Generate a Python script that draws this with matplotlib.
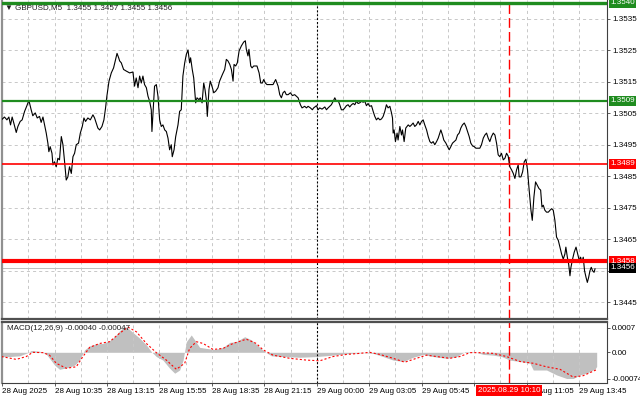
import numpy as np
import matplotlib.pyplot as plt
from matplotlib.ticker import FixedLocator, NullFormatter

plt.rcParams['font.family'] = ['Liberation Sans', 'DejaVu Sans']
plt.rcParams['lines.scale_dashes'] = False

# GBPUSD M5 close, x = bar number from the left edge of the chart
bars_a = [0.4, 1.8, 3.3, 4.5, 5.5, 6.5, 7.5, 9.0, 10.0, 11.4, 12.6, 14.1, 15.5, 16.7, 18.1, 19.1,
          20.6, 21.8, 23.2, 24.2, 25.3, 26.3, 27.3, 28.3, 28.9, 29.7, 30.8, 31.4, 32.4, 33.4, 34.4, 35.4,
          36.5, 37.5, 38.5, 39.5, 40.5, 41.5, 42.6, 43.6, 44.6, 45.6, 47.0, 48.1, 49.3, 50.3, 51.3, 52.7,
          54.2, 55.8, 56.8, 57.8, 58.8, 59.9, 61.3, 62.5, 63.5, 64.3, 65.6, 67.0, 68.4, 69.6, 70.5, 71.5]
close_a = [1.35031, 1.35038, 1.35029, 1.35038, 1.35013, 1.35038, 1.35019, 1.34989, 1.35008, 1.35024,
           1.35029, 1.35056, 1.35074, 1.35091, 1.35061, 1.35042, 1.35051, 1.35035, 1.35040, 1.35021,
           1.35038, 1.35013, 1.34987, 1.34955, 1.34928, 1.34944, 1.34923, 1.34886, 1.34896, 1.34880,
           1.34907, 1.34902, 1.34976, 1.34950, 1.34896, 1.34838, 1.34848, 1.34880, 1.34859, 1.34912,
           1.34923, 1.34950, 1.34955, 1.34987, 1.35008, 1.35035, 1.35024, 1.35035, 1.35029, 1.35045,
           1.35035, 1.35019, 1.35003, 1.34997, 1.35008, 1.35029, 1.35067, 1.35104, 1.35152, 1.35178,
           1.35194, 1.35221, 1.35240, 1.35226]

bars_b = [72.1, 73.1, 74.5, 76.1, 78.2, 80.2, 81.2, 82.2, 83.3, 84.3, 85.3, 86.3, 87.3, 88.4, 89.4, 90.4,
          91.4, 91.8, 92.4, 93.4, 94.5, 95.5, 96.5, 97.5, 98.5, 99.6, 100.6, 101.6, 102.6, 103.6, 104.2,
          105.3, 106.3, 107.7, 108.7, 109.7, 110.7, 111.8, 112.8, 113.8, 114.8, 115.4, 116.4, 117.3, 118.5,
          119.3, 120.5, 121.3, 122.4, 123.4, 124.2, 125.0, 125.6, 126.6, 127.4, 128.7, 129.5, 130.7, 132.1,
          133.1, 134.8, 136.2, 137.2, 138.2, 139.3, 140.3, 141.3, 141.9, 142.9, 143.9, 145.0]
close_b = [1.35216, 1.35210, 1.35189, 1.35184, 1.35178, 1.35181, 1.35136, 1.35162, 1.35131, 1.35168,
           1.35146, 1.35168, 1.35141, 1.35131, 1.35104, 1.35088, 1.35061, 1.34992, 1.35045, 1.35136,
           1.35141, 1.35104, 1.35029, 1.35008, 1.35013, 1.34997, 1.34992, 1.34971, 1.34934, 1.34950,
           1.34912, 1.34934, 1.34976, 1.35013, 1.35056, 1.35061, 1.35168, 1.35210, 1.35237, 1.35251,
           1.35210, 1.35226, 1.35189, 1.35162, 1.35083, 1.35099, 1.35093, 1.35099, 1.35083, 1.35146,
           1.35125, 1.35093, 1.35040, 1.35125, 1.35152, 1.35131, 1.35115, 1.35120, 1.35131, 1.35152,
           1.35173, 1.35189, 1.35221, 1.35216, 1.35205, 1.35189, 1.35152, 1.35205, 1.35200, 1.35210,
           1.35248]

bars_c = [146.4, 147.8, 148.8, 149.4, 150.4, 151.0, 152.1, 152.9, 153.9, 155.9, 157.2, 158.2, 159.2,
          160.0, 161.0, 162.0, 164.7, 165.7, 167.3, 168.8, 169.8, 170.8, 171.8, 172.8, 173.8, 174.9,
          176.3, 177.5, 178.9, 180.0, 181.0, 182.4, 183.4, 185.0, 186.1, 187.1, 188.5, 189.7, 190.5,
          192.2, 193.2, 194.2, 195.6, 197.3, 198.3, 199.3, 200.3, 201.3, 202.4, 203.4, 204.4, 205.4,
          206.4, 207.4, 208.5, 209.5, 210.5, 211.5, 212.5, 213.6, 214.6, 215.6, 216.6, 217.6]
close_c = [1.35264, 1.35276, 1.35280, 1.35253, 1.35232, 1.35253, 1.35200, 1.35194, 1.35200, 1.35200,
           1.35178, 1.35146, 1.35146, 1.35157, 1.35146, 1.35141, 1.35141, 1.35141, 1.35157, 1.35136,
           1.35109, 1.35099, 1.35115, 1.35120, 1.35109, 1.35109, 1.35115, 1.35106, 1.35109, 1.35104,
           1.35099, 1.35077, 1.35067, 1.35072, 1.35067, 1.35072, 1.35067, 1.35061, 1.35067, 1.35074,
           1.35061, 1.35067, 1.35063, 1.35070, 1.35061, 1.35067, 1.35072, 1.35077, 1.35088, 1.35099,
           1.35088, 1.35091, 1.35077, 1.35061, 1.35061, 1.35067, 1.35074, 1.35077, 1.35070, 1.35077,
           1.35081, 1.35077, 1.35088, 1.35081]

bars_d = [218.6, 219.7, 220.7, 221.7, 222.7, 223.7, 224.7, 225.8, 226.8, 227.8, 228.8, 229.8, 230.9,
          231.9, 232.9, 233.9, 234.9, 235.9, 237.0, 238.0, 238.6, 239.0, 239.6, 240.4, 241.4, 242.0,
          243.1, 244.1, 244.7, 245.7, 246.7, 248.2, 249.2, 250.2, 251.2, 252.2, 253.2, 254.3, 255.3,
          256.3, 257.3, 258.3, 259.4, 260.4, 261.4, 262.4, 263.4, 264.4, 265.5, 266.5, 267.5, 268.1,
          269.1, 269.9, 271.2, 272.2, 273.2, 274.2, 275.2, 276.3, 277.3, 278.3, 279.3, 280.3, 281.3,
          282.4, 283.4, 284.4, 285.4, 286.4, 287.5, 288.5, 289.5, 290.9]
close_d = [1.35083, 1.35088, 1.35085, 1.35088, 1.35074, 1.35081, 1.35072, 1.35074, 1.35056, 1.35040,
           1.35029, 1.35035, 1.35029, 1.35032, 1.35040, 1.35056, 1.35077, 1.35067, 1.35072, 1.35051,
           1.35035, 1.34987, 1.34997, 1.34960, 1.34987, 1.34965, 1.35008, 1.34981, 1.34997, 1.34960,
           1.35003, 1.35013, 1.35008, 1.35013, 1.35019, 1.35008, 1.35013, 1.35024, 1.35013, 1.35024,
           1.35029, 1.35013, 1.34997, 1.34976, 1.34960, 1.34955, 1.34960, 1.34950, 1.34960, 1.34971,
           1.34987, 1.34997, 1.34981, 1.34965, 1.34955, 1.34944, 1.34934, 1.34944, 1.34955, 1.34960,
           1.34965, 1.34981, 1.34987, 1.35003, 1.35013, 1.35019, 1.35008, 1.34992, 1.34976, 1.34955,
           1.34946, 1.34944, 1.34939, 1.34939]

bars_e = [291.9, 292.9, 294.0, 295.0, 296.0, 297.0, 298.0, 299.0, 300.1, 301.1, 302.1, 303.1, 304.1,
          305.1, 306.2, 307.2, 308.2, 309.2, 310.2, 311.3, 312.3, 313.3, 314.3, 315.3, 315.9, 317.0,
          318.0, 319.0, 320.0, 321.0, 322.0, 323.1, 323.9, 324.9, 325.9, 326.9, 328.0, 329.0, 329.8,
          330.6, 331.6, 332.6, 333.7, 334.7, 335.7, 336.7, 337.7, 338.7, 339.8, 340.8, 341.8, 342.8,
          343.8, 344.4, 345.3, 346.1, 346.9, 347.5, 348.5, 349.5, 350.6, 351.6, 352.6, 353.4, 354.2,
          355.0, 355.8, 356.7, 357.5, 358.3, 359.1, 359.9, 360.7, 361.6, 362.2]
close_e = [1.34939, 1.34950, 1.34971, 1.34981, 1.34987, 1.34971, 1.34960, 1.34976, 1.34987, 1.34981,
           1.34955, 1.34918, 1.34912, 1.34923, 1.34902, 1.34907, 1.34923, 1.34914, 1.34880, 1.34870,
           1.34859, 1.34843, 1.34870, 1.34886, 1.34848, 1.34848, 1.34864, 1.34896, 1.34904, 1.34870,
           1.34806, 1.34742, 1.34710, 1.34784, 1.34832, 1.34822, 1.34811, 1.34806, 1.34752, 1.34758,
           1.34742, 1.34736, 1.34736, 1.34742, 1.34747, 1.34742, 1.34710, 1.34657, 1.34646, 1.34625,
           1.34603, 1.34587, 1.34603, 1.34625, 1.34593, 1.34571, 1.34534, 1.34561, 1.34587, 1.34609,
           1.34625, 1.34603, 1.34582, 1.34593, 1.34577, 1.34593, 1.34550, 1.34529, 1.34513, 1.34529,
           1.34550, 1.34561, 1.34550, 1.34545, 1.34556]

# MACD(12,26,9) main (histogram) and signal
macd_bar = [0, 4.9, 11.0, 16.1, 18.1, 23.2, 27.3, 29.3, 32.4, 35.4, 38.5, 41.5, 44.6, 47.6, 50.7, 53.8,
            57.8, 61.9, 66.0, 69.0, 72.1, 75.1, 77.2, 80.2, 84.3, 88.4, 91.4, 94.5, 98.5, 102.6, 105.7,
            108.7, 110.8, 112.8, 115.8, 117.9, 120.9, 125.0, 130.1, 135.2, 139.3, 143.3, 148.4, 152.5,
            156.6, 160.6, 164.7, 171.8, 182.0, 192.2, 202.3, 210.5, 220.7, 226.8, 232.9, 239.0, 245.1,
            251.2, 257.3, 263.4, 271.6, 277.7, 282.8, 288.9, 294.0, 300.1, 305.2, 310.2, 316.4, 322.5,
            324.5, 332.6, 338.8, 344.9, 348.9, 353.0, 357.1, 362.2, 363.2]
macd_val = [-0.00012, -0.00012, -0.00010, -0.00001, 0.00005, 0.00003, -0.00005, -0.00017, -0.00036,
            -0.00048, -0.00045, -0.00042, -0.00036, -0.00022, 0.00007, 0.00018, 0.00024, 0.00025,
            0.00033, 0.00044, 0.00061, 0.00073, 0.00068, 0.00056, 0.00040, 0.00021, 0.00002, -0.00012,
            -0.00022, -0.00045, -0.00059, -0.00050, -0.00022, 0.00030, 0.00049, 0.00035, 0.00014,
            0.00011, 0.00008, 0.00014, 0.00028, 0.00030, 0.00044, 0.00035, 0.00018, 0.00002, -0.00010,
            -0.00012, -0.00014, -0.00012, -0.00008, -0.00004, -0.00001, -0.00003, -0.00012, -0.00022,
            -0.00026, -0.00014, -0.00006, -0.00012, -0.00017, -0.00012, 0.00002, 0.00001, -0.00006,
            -0.00008, -0.00012, -0.00022, -0.00026, -0.00031, -0.00050, -0.00050, -0.00064, -0.00074,
            -0.00074, -0.00064, -0.00059, -0.00047, -0.00040]
sig_bar = [0, 9.0, 15.1, 19.1, 25.3, 29.3, 33.4, 39.5, 45.6, 49.7, 53.8, 59.9, 66.0, 72.1, 77.2, 82.3,
           88.4, 94.5, 100.6, 106.7, 111.8, 114.8, 118.9, 123.0, 129.1, 135.2, 141.3, 149.4, 155.5,
           159.6, 165.7, 175.9, 186.1, 194.2, 202.3, 210.5, 218.6, 224.7, 230.8, 239.0, 246.1, 253.2,
           259.4, 265.5, 273.6, 279.7, 285.8, 291.9, 300.1, 308.2, 316.4, 324.5, 332.6, 340.8, 348.9,
           355.0, 363.2]
sig_val = [-0.00012, -0.00020, -0.00012, 0.00000, -0.00001, -0.00008, -0.00031, -0.00045, -0.00041,
           -0.00012, 0.00014, 0.00025, 0.00030, 0.00054, 0.00071, 0.00058, 0.00025, -0.00001, -0.00022,
           -0.00048, -0.00031, 0.00011, 0.00030, 0.00025, 0.00008, 0.00011, 0.00025, 0.00037, 0.00025,
           0.00007, -0.00008, -0.00017, -0.00022, -0.00024, -0.00012, -0.00006, -0.00003, 0.00000,
           -0.00006, -0.00017, -0.00028, -0.00017, -0.00008, -0.00012, -0.00017, -0.00012, -0.00001,
           -0.00001, -0.00003, -0.00012, -0.00026, -0.00031, -0.00041, -0.00048, -0.00070, -0.00066,
           -0.00049]

levels = [1.3540, 1.3509, 1.3489, 1.3458]
level_text = ['1.3540', '1.3509', '1.3489', '1.3458']
bid = 1.3456

price_ticks = [1.3535, 1.3525, 1.3515, 1.3505, 1.3495, 1.3485, 1.3475, 1.3465, 1.3455, 1.3445]
# 1.3455 sits behind the bid box in the terminal, so its label is left empty
price_tick_text = ['1.3535', '1.3525', '1.3515', '1.3505', '1.3495', '1.3485', '1.3475', '1.3465', '',
                   '1.3445']
time_ticks = [0.4, 32.4, 64.4, 96.4, 128.4, 160.4, 192.4, 224.4, 256.4, 288.4, 320.4, 352.4]
time_grid = [16.4, 48.4, 80.4, 112.4, 144.4, 176.4, 208.4, 240.4, 272.4, 304.4, 336.4]
# the 08:25 label is hidden by the cursor date box
time_text = ['28 Aug 2025', '28 Aug 10:35', '28 Aug 13:15', '28 Aug 15:55', '28 Aug 18:35',
             '28 Aug 21:15', '29 Aug 00:00', '29 Aug 03:05', '29 Aug 05:45', '',
             '29 Aug 11:05', '29 Aug 13:45']
day_break = 192.4
cursor_bar = 309.6

bars = np.array(bars_a + bars_b + bars_c + bars_d + bars_e)
close = np.array(close_a + close_b + close_c + close_d + close_e)

GREEN = '#1f8c1f'
RED = '#ff0000'
GRID = '#c8c8c8'
FS = 5.8

W, H = 640, 401
fig = plt.figure(figsize=(6.4, 4.01), dpi=100)


def px_rect(l, t, r, b):
    return [l / W, 1 - b / H, (r - l) / W, (b - t) / H]


ax = fig.add_axes(px_rect(1.5, 0, 607, 319))
am = fig.add_axes(px_rect(1.5, 322, 607, 383))

for a in (ax, am):
    a.set_xlim(0, 369.5)
    a.set_xticks(time_ticks)
    a.xaxis.set_minor_locator(FixedLocator(time_grid))
    a.grid(True, which='both', axis='x', color=GRID, linestyle=(0, (2.2, 2.2)), lw=0.7)
    a.axvline(day_break, color='black', linestyle=(0, (1.4, 1.4)), lw=0.8, zorder=2)
    a.axvline(cursor_bar, color=RED, linestyle=(0, (7, 3)), lw=1.0, zorder=2)
    a.yaxis.tick_right()
    a.tick_params(axis='y', direction='out', length=2.5, width=0.6, color='#404040',
                  labelsize=FS, pad=1.2)
    a.spines['left'].set_color('#909090')
    a.spines['left'].set_linewidth(1.6)
    a.spines['right'].set_color('#404040')
    a.spines['right'].set_linewidth(0.8)

# price panel
ax.set_ylim(1.343968, 1.354095)
ax.set_yticks(price_ticks, labels=price_tick_text)
ax.grid(True, axis='y', color=GRID, linestyle=(0, (2.2, 2.2)), lw=0.7)
ax.tick_params(axis='x', which='both', length=0, labelbottom=False)
ax.spines['top'].set_visible(False)
ax.spines['bottom'].set_color('#505050')
ax.spines['bottom'].set_linewidth(1.6)

ax.plot(bars, close, color='black', lw=0.8, zorder=3)
ax.axhline(bid, color='#c0c0c0', lw=0.7, zorder=2)
for p, c, w in zip(levels, [GREEN, GREEN, RED, RED], [2.4, 1.6, 1.2, 3.0]):
    ax.axhline(p, color=c, lw=w, zorder=4)

for p, t, c in zip(levels + [bid], level_text + ['1.3456'], [GREEN, GREEN, RED, RED, 'black']):
    ax.text(1.005, p, t, transform=ax.get_yaxis_transform(), color='white', fontsize=FS,
            ha='left', va='center', zorder=8, clip_on=False,
            bbox=dict(boxstyle='square,pad=0.18', fc=c, ec='none'))

fig.text(5 / W, 1 - 8 / H, '\u25bc GBPUSD,M5  1.3455 1.3457 1.3455 1.3456', fontsize=FS,
         color='#202020', va='center', ha='left')

# MACD panel
am.fill_between(macd_bar, 0, macd_val, color='#c0c0c0', lw=0, zorder=1.5)
am.plot(sig_bar, sig_val, color=RED, linestyle=(0, (1.5, 1.5)), lw=0.8, zorder=3)
am.set_ylim(-0.000867, 0.000856)
am.set_yticks([0.0007, 0.0, -0.00074], labels=['0.0007', '0.00', '-0.00074'])
am.set_xticklabels(time_text)
am.xaxis.set_minor_formatter(NullFormatter())
am.tick_params(axis='x', which='major', direction='out', length=2.5, width=0.6, color='#404040',
               labelsize=FS, pad=1.2)
am.tick_params(axis='x', which='minor', length=0)
for lbl in am.get_xticklabels():
    lbl.set_horizontalalignment('left')
am.spines['top'].set_color('#505050')
am.spines['top'].set_linewidth(1.6)
am.spines['bottom'].set_color('#404040')
am.spines['bottom'].set_linewidth(0.8)

am.text(5 / 605, 0.9, 'MACD(12,26,9) -0.00040 -0.00047', transform=am.transAxes, fontsize=FS,
        color='#202020', va='center', ha='left', zorder=8)
am.text(cursor_bar, -0.13, '2025.08.29 10:10', transform=am.get_xaxis_transform(), color='white',
        fontsize=FS, ha='center', va='center', zorder=10, clip_on=False,
        bbox=dict(boxstyle='square,pad=0.25', fc=RED, ec='none'))

fig.savefig('out.png', dpi=100, facecolor='white')
